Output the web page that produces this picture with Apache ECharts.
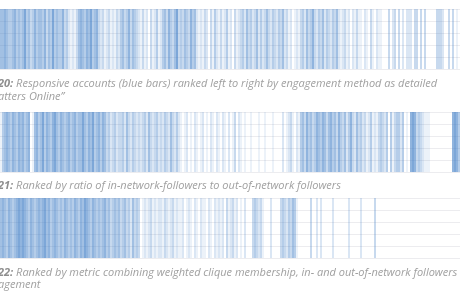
<!DOCTYPE html>
<html>
<head>
<meta charset="utf-8">
<script src="https://cdn.jsdelivr.net/npm/echarts@6/dist/echarts.min.js"></script>
<style>
  html, body { margin: 0; padding: 0; background: #fff; }
  #chart { width: 460px; height: 295px; }
</style>
</head>
<body>
<div id="chart"></div>
<script>
// intensity of each 2px column (0 = empty, 9 = darkest)
var fig20 = [
  5,5,6,5,4,4,5,6,4,5, 4,5,7,4,5,3,4,6,4,5, 5,4,6,3,5,4,7,4,5,4, 4,6,3,4,2,1,2,1,3,5,
  6,5,4,6,5,7,4,5,6,3, 2,3,1,2,3,1,2,1,3,2, 4,5,3,4,6,3,5,4,3,2, 1,3,1,2,0,3,1,2,4,1,
  2,4,5,3,6,4,3,5,7,3, 4,3,5,4,3,6,4,5,2,1, 2,1,3,2,0,3,1,4,2,1, 3,1,2,4,1,2,0,3,1,2,
  3,4,2,5,3,4,2,3,5,2, 4,2,3,5,3,2,4,3,2,4, 3,5,2,3,1,2,0,1,2,1, 3,4,2,5,3,4,6,3,2,4,
  3,5,2,4,3,2,4,3,5,2, 1,2,3,1,2,0,2,1,3,1, 1,0,2,1,0,3,1,0,2,1, 1,0,0,0,3,0,2,3,0,3,
  0,2,0,2,2,2,0,3,3,0, 3,0,3,0,0,0,0,0,3,3, 3,2,0,0,3,0,3,0,1,0
];
var fig21 = [
  1,4,5,6,5,4,6,5,4,6, 5,6,4,5,6,0,1,5,6,4, 5,7,4,6,5,4,6,7,5,4, 6,5,4,5,6,4,5,6,4,5,
  5,7,5,4,6,5,7,4,5,6, 4,6,5,3,4,2,3,4,2,3, 3,4,2,5,3,2,4,3,2,3, 2,3,4,2,5,3,2,3,4,2,
  3,2,4,3,2,5,3,2,4,2, 1,0,1,2,0,1,0,2,1,0, 1,2,0,1,0,2,1,0,2,1, 0,2,1,0,2,0,1,3,0,2,
  1,0,1,0,0,1,0,0,0,1, 0,0,1,0,0,0,1,0,0,0, 0,2,0,1,2,3,1,0,2,1, 4,5,3,6,4,5,3,4,6,5,
  4,6,5,3,5,6,4,5,3,6, 4,3,5,2,4,6,3,2,5,3, 4,2,3,1,2,4,1,2,1,3, 4,3,2,4,0,4,1,3,4,4,
  2,4,0,1,0,6,7,6,3,4, 3,2,1,1,1,0,0,0,0,0, 0,0,0,0,0,0,6,7,6,4
];
var fig22 = [
  5,6,5,4,6,5,4,5,6,7, 6,7,6,5,4,6,5,4,5,6, 5,6,7,5,6,4,5,6,5,4, 5,4,6,5,4,5,4,6,5,4,
  6,5,7,6,5,4,6,5,4,5, 4,5,6,4,5,3,4,5,4,5, 3,4,5,3,4,2,5,3,4,3, 0,1,2,1,2,3,1,2,1,2,
  2,1,3,2,1,2,3,1,2,1, 1,2,0,1,2,1,0,2,1,0, 2,1,1,0,2,1,0,2,1,2, 1,2,0,3,1,2,3,1,2,0,
  1,0,2,0,0,0,3,4,3,2, 3,1,0,0,0,2,0,0,0,0, 3,4,3,2,4,3,5,4,1,0, 0,0,0,0,0,3,0,0,2,0,
  2,0,0,0,0,0,2,0,0,0, 0,0,0,0,2,0,0,0,0,0, 2,0,0,0,0,0,0,3,0,0, 0,0,0,0,0,0,0,0,0,0,
  0,0,0,0,0,0,0,0,0,0, 0,0,0,0,0,0,0,0,0,0, 0,0,0,0,0,0,0,0,0,0
];
var strips = [fig20, fig21, fig22];
var stripTops = [9, 112, 198];

var captions = [
  { y: 84, text: '{b|20:} Responsive accounts (blue bars) ranked left to right by engagement method as detailed' },
  { y: 97, text: 'atters Online\u201d' },
  { y: 186, text: '{b|21:} Ranked by ratio of in-network-followers to out-of-network followers' },
  { y: 273, text: '{b|22:} Ranked by metric combining weighted clique membership, in- and out-of-network followers' },
  { y: 285, text: 'agement' }
];

var myChart = echarts.init(document.getElementById('chart'));

function barColor(v) {
  return 'rgba(70,130,200,' + (v * 0.1).toFixed(2) + ')';
}

var grids = [], xAxes = [], yAxes = [], series = [];
strips.forEach(function (arr, k) {
  grids.push({ left: 0, right: 0, top: stripTops[k], height: 60 });
  xAxes.push({
    type: 'category', gridIndex: k, data: arr.map(function (v, i) { return i; }),
    show: false
  });
  yAxes.push({
    type: 'value', gridIndex: k, min: 0, max: 5, interval: 1,
    axisLabel: { show: false }, axisLine: { show: false }, axisTick: { show: false },
    splitLine: { lineStyle: { color: '#ececef', width: 1 } }
  });
  series.push({
    type: 'bar', xAxisIndex: k, yAxisIndex: k, barCategoryGap: '0%', silent: true,
    data: arr.map(function (v) {
      return { value: v > 0 ? 5 : 0, itemStyle: { color: barColor(v) } };
    })
  });
});

var option = {
  animation: false,
  backgroundColor: '#fff',
  grid: grids,
  xAxis: xAxes,
  yAxis: yAxes,
  series: series,
  graphic: captions.map(function (c) {
    return {
      type: 'text', left: -2, top: c.y - 6,
      style: {
        text: c.text, fill: '#a0a0a0', fontFamily: 'Open Sans', fontStyle: 'italic',
        fontSize: 11,
        rich: { b: { fontWeight: 'bold', fill: '#8e8e8e', fontStyle: 'italic', fontFamily: 'Open Sans', fontSize: 11 } }
      }
    };
  })
};

myChart.setOption(option);
</script>
</body>
</html>
